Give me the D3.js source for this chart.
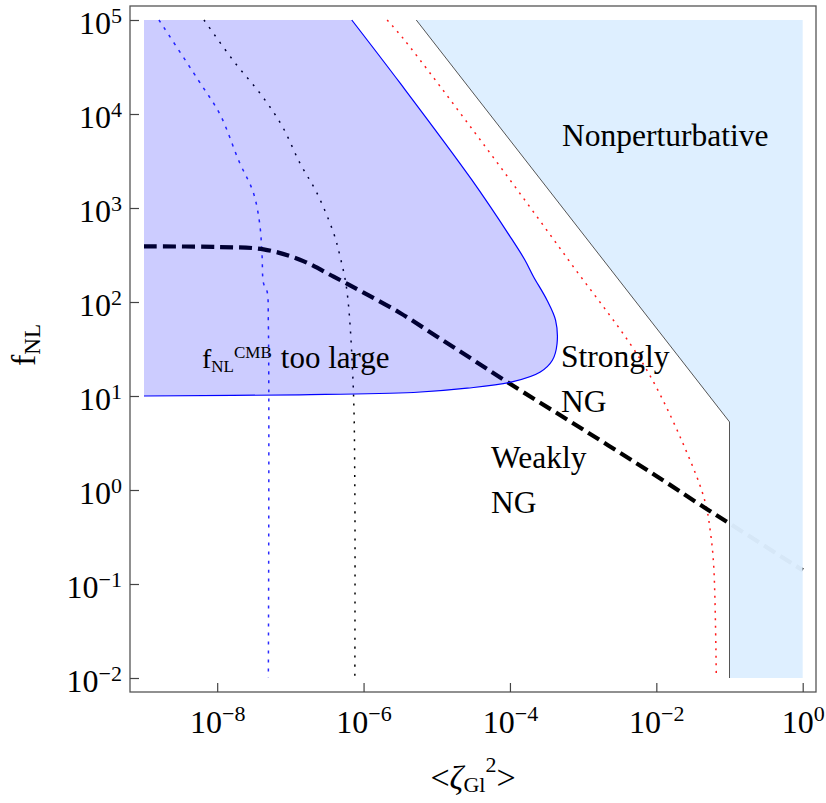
<!DOCTYPE html>
<html>
<head>
<meta charset="utf-8">
<script src="https://cdn.jsdelivr.net/npm/d3@7"></script>
<style>
body { margin: 0; background: #fff; }
svg { display: block; font-family: 'Liberation Serif', 'Times New Roman', serif; }
</style>
</head>
<body>
<div id="plot"></div>
<script>
const width = 826
const height = 803
const frame = {left: 130, top: 6, right: 816, bottom: 692}
const pad = 14

// ticks
const xTicks = [1e-8, 1e-6, 1e-4, 1e-2, 1]
const xTickExp = ['\u22128', '\u22126', '\u22124', '\u22122', '0']
const yTicks = [1e-2, 1e-1, 1, 10, 100, 1e3, 1e4, 1e5]
const yTickExp = ['\u22122', '\u22121', '0', '1', '2', '3', '4', '5']

// [<zeta_Gl^2>, f_NL]
// blue solid boundary of the "fNL^CMB too large" region, bottom-left -> nose -> top
const cmbBoundary = [
    [1e-9, 10], [1.35e-7, 10.3], [4.8e-6, 10.9], [2.6e-5, 12.1], [1.1e-4, 14.2],
    [2.6e-4, 18], [3.8e-4, 24], [4.4e-4, 36], [4.2e-4, 64], [3.2e-4, 105],
    [2.1e-4, 186], [1.6e-4, 280], [1.0e-4, 500], [3.0e-5, 2000], [3.2e-6, 2.1e4],
    [6.9e-7, 1e5]
]
// nonperturbative region edge
const nonpertBoundary = [[5.25e-6, 1e5], [0.1, 5.3], [0.1, 0.01]]
const nonpertCorners = [[1, 0.01], [1, 1e5]]
// strongly / weakly NG divide (thick dashed)
const ngDivide = [
    [1e-9, 390], [1e-8, 385], [4.3e-8, 363], [1.35e-7, 282], [3.9e-7, 186],
    [1e-6, 126], [3.2e-6, 76], [1e-5, 43], [3.2e-5, 24], [1e-4, 13.5],
    [1e-3, 4.4], [1e-2, 1.41], [0.05, 0.62], [0.1, 0.44], [1, 0.14]
]
// dotted curves
const blueDotted = [
    [1.6e-9, 1e5], [5.5e-9, 2.3e4], [1.1e-8, 9800], [2.0e-8, 3100], [3.1e-8, 1480],
    [3.8e-8, 690], [4.1e-8, 316], [4.3e-8, 158], [4.8e-8, 130], [5.0e-8, 60], [5.0e-8, 0.01]
]
const blackDotted = [
    [6.6e-9, 1e5], [1.66e-8, 3.7e4], [4.3e-8, 1.48e4], [7.9e-8, 7200], [1.35e-7, 3000],
    [2.3e-7, 1450], [3.9e-7, 540], [4.8e-7, 300], [5.9e-7, 135], [7.2e-7, 13.5],
    [7.6e-7, 1], [7.6e-7, 0.01]
]
const redDotted = [
    [2.1e-6, 1e5], [3.4e-6, 6.5e4], [4.6e-5, 4500], [6.3e-4, 280], [7.1e-3, 20],
    [0.030, 1.94], [0.047, 0.72], [0.055, 0.35], [0.061, 0.15], [0.066, 0.01]
]

const svg = d3.select('div#plot').append('svg')
    .attr('width', width)
    .attr('height', height)
    .attr('viewBox', [0, 0, width, height])

const x = d3.scaleLog()
    .domain([1e-9, 1])
    .range([frame.left + pad, frame.right - 13.3])
const y = d3.scaleLog()
    .domain([1e-2, 1e5])
    .range([frame.bottom - pad, frame.top + pad])

const line = d3.line().x(d => x(d[0])).y(d => y(d[1]))
const smooth = d3.line().x(d => x(d[0])).y(d => y(d[1])).curve(d3.curveCatmullRom.alpha(0.5))

// lines sit under the shaded regions, like the original
svg.append('path')
    .attr('d', smooth(blueDotted))
    .attr('fill', 'none')
    .attr('stroke', '#2a2aff')
    .attr('stroke-width', 1.5)
    .attr('stroke-dasharray', '3 6')

svg.append('path')
    .attr('d', smooth(blackDotted))
    .attr('fill', 'none')
    .attr('stroke', '#000')
    .attr('stroke-width', 1.5)
    .attr('stroke-dasharray', '2 7')

svg.append('path')
    .attr('d', smooth(redDotted))
    .attr('fill', 'none')
    .attr('stroke', '#ff1a1a')
    .attr('stroke-width', 1.5)
    .attr('stroke-dasharray', '2 5.5')

svg.append('path')
    .attr('d', smooth(ngDivide))
    .attr('fill', 'none')
    .attr('stroke', '#000')
    .attr('stroke-width', 4.2)
    .attr('stroke-dasharray', '13 6')

// nonperturbative region
svg.append('path')
    .attr('d', line(nonpertBoundary.concat(nonpertCorners)) + 'Z')
    .attr('fill', 'rgb(221,238,255)')
    .attr('fill-opacity', 0.97)
    .attr('stroke', 'none')

svg.append('path')
    .attr('d', line(nonpertBoundary))
    .attr('fill', 'none')
    .attr('stroke', '#555')
    .attr('stroke-width', 1)

// fNL^CMB too large region
const cmbArea = smooth(cmbBoundary) +
    'L' + x(1e-9) + ',' + y(1e5) + 'Z'
svg.append('path')
    .attr('d', cmbArea)
    .attr('fill', 'rgb(0,0,255)')
    .attr('fill-opacity', 0.2)

svg.append('path')
    .attr('d', smooth(cmbBoundary))
    .attr('fill', 'none')
    .attr('stroke', '#0000ff')
    .attr('stroke-width', 1.2)

// frame
svg.append('rect')
    .attr('x', frame.left)
    .attr('y', frame.top)
    .attr('width', frame.right - frame.left)
    .attr('height', frame.bottom - frame.top)
    .attr('fill', 'none')
    .attr('stroke', '#555')
    .attr('stroke-width', 1.3)

// x axis
svg.append('g')
    .attr('transform', 'translate(0,' + frame.bottom + ')')
    .call(d3.axisBottom(x).tickValues(xTicks).tickSize(-9).tickPadding(0).tickFormat(''))
    .attr('font-family', null)
    .attr('font-size', null)
    .call(g => g.select('.domain').remove())
    .call(g => g.selectAll('.tick line').attr('stroke', '#444').attr('stroke-width', 1.2))
    .call(g => g.selectAll('.tick text').each(function (d, i) {
        const t = d3.select(this)
            .attr('dy', null)
            .attr('y', 41)
            .attr('font-size', 32)
            .attr('fill', '#000')
        t.append('tspan').text('10')
        t.append('tspan').attr('font-size', 22).attr('dy', -12).text(xTickExp[i])
    }))

// y axis
svg.append('g')
    .attr('transform', 'translate(' + frame.left + ',0)')
    .call(d3.axisLeft(y).tickValues(yTicks).tickSize(-9).tickPadding(8).tickFormat(''))
    .attr('font-family', null)
    .attr('font-size', null)
    .call(g => g.select('.domain').remove())
    .call(g => g.selectAll('.tick line').attr('stroke', '#444').attr('stroke-width', 1.2))
    .call(g => g.selectAll('.tick text').each(function (d, i) {
        const t = d3.select(this)
            .attr('dy', null)
            .attr('y', 13)
            .attr('font-size', 32)
            .attr('fill', '#000')
        t.append('tspan').text('10')
        t.append('tspan').attr('font-size', 22).attr('dy', -11).text(yTickExp[i])
    }))

// axis titles
const xTitle = svg.append('text')
    .attr('x', (frame.left + frame.right) / 2)
    .attr('y', 789)
    .attr('text-anchor', 'middle')
    .attr('font-size', 34)
xTitle.append('tspan').text('<')
xTitle.append('tspan').attr('font-style', 'italic').text('\u03b6')
xTitle.append('tspan').attr('font-size', 22).attr('dy', 3).text('Gl')
xTitle.append('tspan').attr('font-size', 22).attr('dy', -20).text('2')
xTitle.append('tspan').attr('dy', 17).text('>')

const yTitle = svg.append('text')
    .attr('transform', 'translate(35,345) rotate(-90)')
    .attr('text-anchor', 'middle')
    .attr('font-size', 34)
yTitle.append('tspan').text('f')
yTitle.append('tspan').attr('font-size', 23).attr('dy', 5).text('NL')

// region labels
const regionLabels = [
    {text: 'Nonperturbative', x: 562, y: 146},
    {text: 'Strongly', x: 561, y: 367},
    {text: 'NG', x: 561, y: 412},
    {text: 'Weakly', x: 491, y: 468},
    {text: 'NG', x: 491, y: 513}
]
svg.selectAll('text.region')
    .data(regionLabels)
    .enter()
    .append('text')
    .attr('class', 'region')
    .attr('x', d => d.x)
    .attr('y', d => d.y)
    .attr('font-size', 31.5)
    .text(d => d.text)

const cmbLabel = svg.append('text')
    .attr('x', 202)
    .attr('y', 368)
    .attr('font-size', 28)
cmbLabel.append('tspan').text('f')
cmbLabel.append('tspan').attr('font-size', 17).attr('dy', 4).text('NL')
cmbLabel.append('tspan').attr('font-size', 17).attr('dy', -14).text('CMB')
cmbLabel.append('tspan').attr('font-size', 31).attr('dy', 10).attr('dx', 9).text('too large')
</script>
</body>
</html>
